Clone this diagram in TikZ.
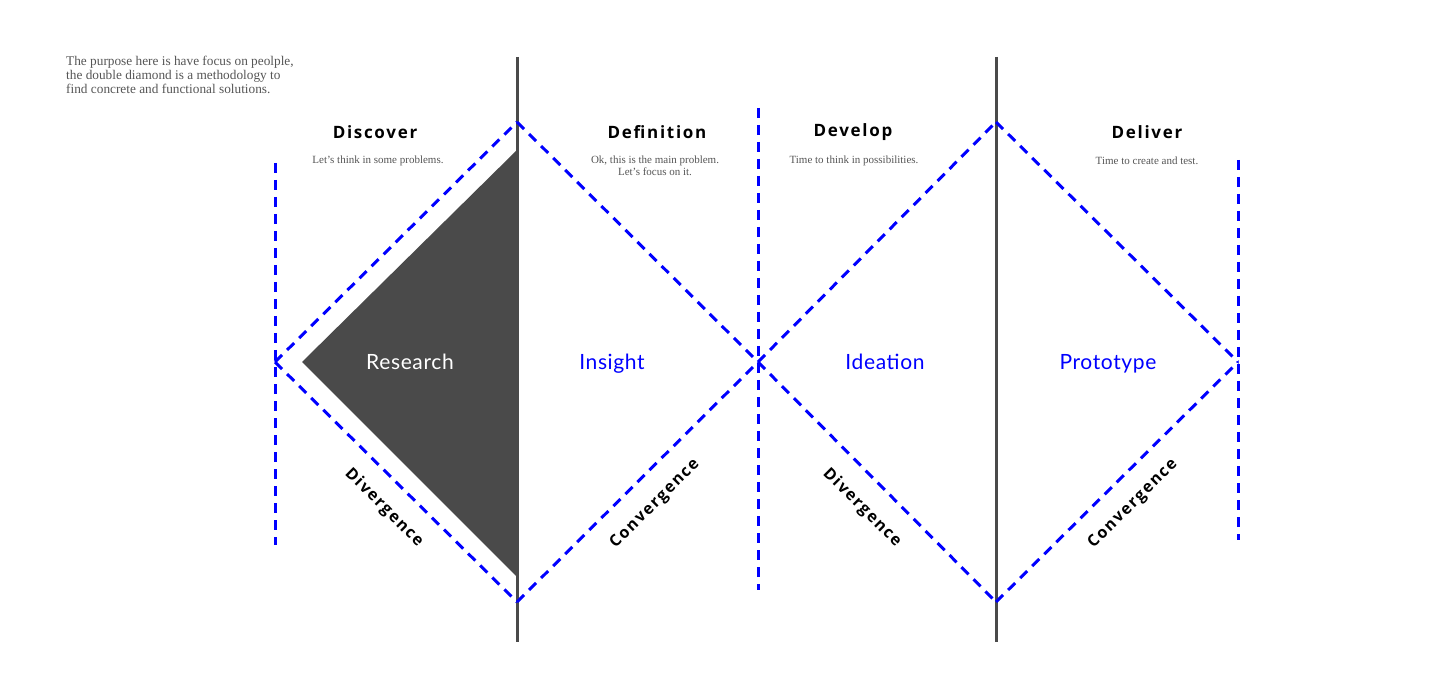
\documentclass[tikz,border=0pt]{standalone}
\usepackage{fontspec}
\setmainfont{Liberation Serif}
\newfontfamily\headfont[LetterSpace=10]{Open Sans}
\newfontfamily\latofont[LetterSpace=3]{Lato}
\definecolor{darkg}{HTML}{4A4A4A}
\definecolor{txtg}{HTML}{555555}
\definecolor{pblue}{RGB}{0,0,255}
\tikzset{
  grayline/.style={line width=3pt, draw=darkg},
  bluedash/.style={line width=3pt, draw=pblue, dash pattern=on 10pt off 7pt},
  heading/.style={font=\headfont\bfseries\fontsize{17}{20}\selectfont, text=black, inner sep=0pt},
  small/.style={font=\fontsize{11}{12}\selectfont, text=txtg, inner sep=0pt, align=center},
  phase/.style={font=\latofont\fontsize{21}{24}\selectfont, inner sep=0pt, anchor=base},
  diag/.style={font=\headfont\bfseries\fontsize{16}{19}\selectfont, text=black, inner sep=0pt},
}
\begin{document}
\begin{tikzpicture}[x=1pt,y=-1pt]
\useasboundingbox (0,0) rectangle (1440,700);
% coordinates
\coordinate (D1L) at (275,362);
\coordinate (D1T) at (517,122);
\coordinate (D1B) at (517,602);
\coordinate (D1R) at (758,362);
\coordinate (D2T) at (996,122);
\coordinate (D2B) at (996,602);
\coordinate (D2R) at (1238,362);
% research triangle
\coordinate (TriL) at (302,362);
\coordinate (TriT) at (517,150);
\coordinate (TriB) at (517,577);
\fill[darkg] (TriL) -- (TriT) -- (TriB) -- cycle;
% gray separators
\coordinate (G1T) at (517,57);
\coordinate (G1B) at (517,642);
\coordinate (G2T) at (996,57);
\coordinate (G2B) at (996,642);
\draw[grayline] (G1T) -- (G1B);
\draw[grayline] (G2T) -- (G2B);
% blue dashed verticals
\coordinate (V1T) at (275,163);
\coordinate (V1B) at (275,545);
\coordinate (V2T) at (758,108);
\coordinate (V2B) at (758,590);
\coordinate (V3T) at (1238,160);
\coordinate (V3B) at (1238,540);
\draw[bluedash] (V1T) -- (V1B);
\draw[bluedash] (V2T) -- (V2B);
\draw[bluedash] (V3T) -- (V3B);
% diamonds
\draw[bluedash] (D1L) -- (D1T);
\draw[bluedash] (D1T) -- (D1R);
\draw[bluedash] (D1L) -- (D1B);
\draw[bluedash] (D1B) -- (D1R);
\draw[bluedash] (D1R) -- (D2T);
\draw[bluedash] (D2T) -- (D2R);
\draw[bluedash] (D1R) -- (D2B);
\draw[bluedash] (D2B) -- (D2R);
% intro text
\node[anchor=north west, inner sep=0pt, align=left, text=txtg, font=\fontsize{13.3}{14}\selectfont] (intro) at (66,56)
  {The purpose here is have focus on peolple,\\the double diamond is a methodology to\\find concrete and functional solutions.};
% headings
\node[heading] (h1) at (375,132) {Discover};
\node[heading] (h2) at (657,132) {Definition};
\node[heading] (h3) at (853,132) {Develop};
\node[heading] (h4) at (1147,132) {Deliver};
% subtexts
\node[small] (s1) at (378,160.5) {Let’s think in some problems.};
\node[small, anchor=north] (s2) at (655,156) {Ok, this is the main problem.\\Let’s focus on it.};
\node[small] (s3) at (854,160.5) {Time to think in possibilities.};
\node[small] (s4) at (1147,160.5) {Time to create and test.};
% phases
\node[phase, text=white] (p1) at (410,369.5) {Research};
\node[phase, text=pblue] (p2) at (612,369.5) {Insight};
\node[phase, text=pblue] (p3) at (885,369.5) {Ideation};
\node[phase, text=pblue] (p4) at (1108,369.5) {Prototype};
% diagonal labels
\node[diag, rotate=-45] (dv1) at (384,508) {Divergence};
\node[diag, rotate=45] (cv1) at (655,504) {Convergence};
\node[diag, rotate=-45] (dv2) at (862,508) {Divergence};
\node[diag, rotate=45] (cv2) at (1133,504) {Convergence};
\end{tikzpicture}
\end{document}
